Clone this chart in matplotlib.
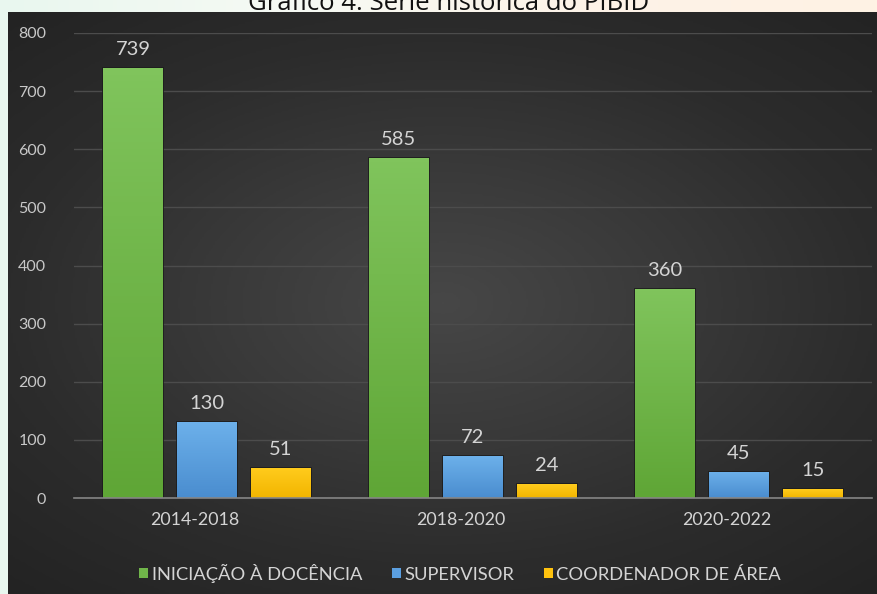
import numpy as np
import matplotlib
matplotlib.use("Agg")
import matplotlib.pyplot as plt
from matplotlib.colors import LinearSegmentedColormap
from matplotlib.transforms import ScaledTranslation
from matplotlib.patches import Patch

plt.rcParams['font.family'] = ['Lato', 'DejaVu Sans']

# ---- data ----
categories = ["2014-2018", "2018-2020", "2020-2022"]
series_names = ["INICIAÇÃO À DOCÊNCIA", "SUPERVISOR", "COORDENADOR DE ÁREA"]
iniciacao = [739, 585, 360]
supervisor = [130, 72, 45]
coordenador = [51, 24, 15]
yticks = [0, 100, 200, 300, 400, 500, 600, 700, 800]
title = "Gráfico 4: Série histórica do PIBID"

series = [iniciacao, supervisor, coordenador]
top_colors = ["#80c45c", "#6cb0ea", "#ffcb1c"]
bot_colors = ["#5fa636", "#4a8dcf", "#f2b500"]
legend_colors = ["#70b54a", "#5b9fe0", "#ffc20e"]

W, H, DPI = 878, 594, 100
fig = plt.figure(figsize=(W / DPI, H / DPI), dpi=DPI)

# page background (light mint to cream)
bg = fig.add_axes([0, 0, 1, 1], zorder=-10)
bg.axis("off")
grad = np.linspace(0, 1, 256).reshape(1, -1)
bg.imshow(grad, aspect="auto", extent=[0, 1, 0, 1],
          cmap=LinearSegmentedColormap.from_list("pg", ["#e9f7ef", "#f6faf4", "#fdf3e8", "#fff2e4"]))
bg.set_xlim(0, 1); bg.set_ylim(0, 1)

# dark chart panel with radial gradient
px0, py_top = 8, 12
panel = fig.add_axes([px0 / W, 0, 1 - px0 / W, (H - py_top) / H], zorder=-5)
panel.axis("off")
yy, xx = np.mgrid[-1:1:300j, -1:1:400j]
r = np.sqrt((xx * 0.9) ** 2 + (yy * 1.0) ** 2)
panel.imshow(r, aspect="auto", extent=[0, 1, 0, 1],
             cmap=LinearSegmentedColormap.from_list("pn", ["#474747", "#3a3a3a", "#2c2c2c", "#232323"]),
             vmin=0, vmax=1.35)
panel.set_xlim(0, 1); panel.set_ylim(0, 1)

# title (cut at the top as in the reference)
fig.text(449 / W, 1 - 10 / H, title, ha="center", va="baseline",
         fontsize=18.5, color="#111111", family=["Open Sans", "DejaVu Sans"])

# main axes
left, right = 74 / W, 872 / W
bottom, top = (H - 498) / H, (H - 33) / H
ax = fig.add_axes([left, bottom, right - left, top - bottom])
ax.patch.set_alpha(0)

x = np.arange(len(categories))
bw = 60 / 266
step = 74 / 266
offsets = [-step, 0, step]

for i, (vals, tc, bc) in enumerate(zip(series, top_colors, bot_colors)):
    bars = ax.bar(x + offsets[i], vals, width=bw, color=bc, edgecolor="#1c1c1c",
                  linewidth=1.2, zorder=3)
    cmap = LinearSegmentedColormap.from_list(f"b{i}", [bc, tc])
    for b, v in zip(bars, vals):
        xb, wb, hb = b.get_x(), b.get_width(), b.get_height()
        im = ax.imshow(np.linspace(0, 1, 64).reshape(-1, 1), origin="lower",
                       extent=[xb, xb + wb, 0, hb], aspect="auto", cmap=cmap, zorder=4)
        im.set_clip_path(b)
        ax.annotate(f"{v}", (b.get_x() + wb / 2, hb), xytext=(0, 9.5),
                    textcoords="offset points", ha="center", va="baseline",
                    fontsize=14.5, color="#d4d4d4", zorder=5)
ax.set_xlim(-0.5, 2.5)
ax.set_ylim(0, 800)

# grid and spines
ax.set_yticks(yticks)
ax.yaxis.grid(True, color="#4c4c4c", linewidth=1.0, zorder=0)
ax.set_axisbelow(True)
for s in ["top", "right", "left"]:
    ax.spines[s].set_visible(False)
ax.spines["bottom"].set_color("#858585")
ax.spines["bottom"].set_linewidth(1.2)
ax.spines["bottom"].set_zorder(6)
ax.tick_params(axis="y", length=0, pad=20, labelsize=11.5, labelcolor="#c8c8c8")
ax.tick_params(axis="x", length=0, pad=10, labelsize=12.8, labelcolor="#d4d4d4")
ax.set_xticks(x)
ax.set_xticklabels(categories)
for lab in ax.get_xticklabels():
    lab.set_transform(lab.get_transform() + ScaledTranslation(-12 / DPI, 0, fig.dpi_scale_trans))

# legend
handles = [Patch(facecolor=c, edgecolor="none", label=n) for c, n in zip(legend_colors, series_names)]
leg = fig.legend(handles=handles, loc="center", bbox_to_anchor=(460 / W, 1 - 573 / H),
                 ncol=3, frameon=False, fontsize=13.2, labelcolor="#d4d4d4",
                 handlelength=0.5, handleheight=0.5, handletextpad=0.2, columnspacing=1.6)

fig.savefig("out.png", dpi=DPI)
